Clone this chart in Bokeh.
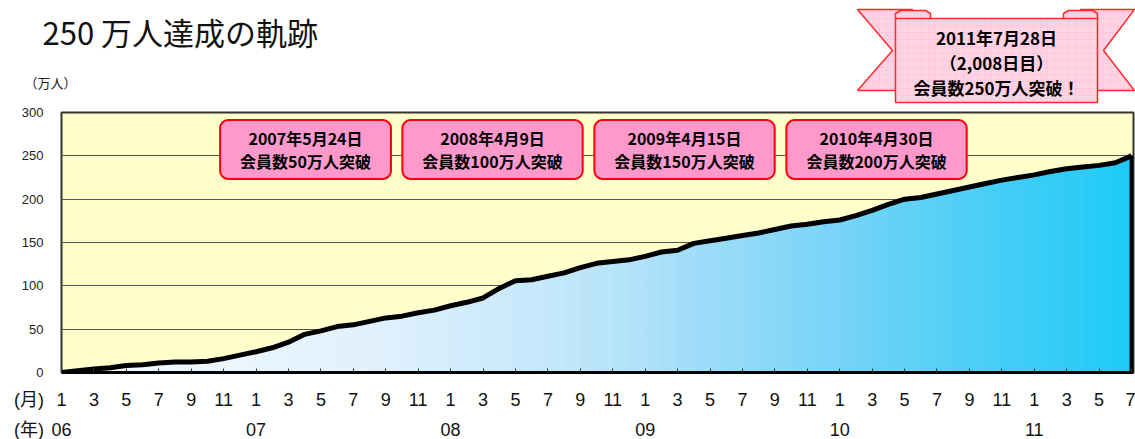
import numpy as np
from bokeh.plotting import figure
from bokeh.layouts import column
from bokeh.models import Label, FixedTicker, LinearAxis, Range1d
from bokeh.core.properties import value
from bokeh.embed import file_html
from bokeh.resources import INLINE

# ---------------- data ----------------
months = list(range(67))  # 0 = Jan 2006 ... 66 = Jul 2011
members = [0, 2, 4, 5.5, 8, 9, 11, 12, 12, 13, 16, 20,
           24, 28.5, 35, 44, 48, 53, 55, 59, 63, 65, 69, 72,
           77, 81, 86, 97, 106, 107, 111, 115, 121, 126, 128, 130,
           134, 139, 141, 149, 152, 155, 158, 161, 165, 169, 171, 174,
           176, 181, 187, 194, 200, 202, 206, 210, 214, 218, 222, 225,
           228, 232, 235, 237, 239, 242, 250]
y_ticks = [0, 50, 100, 150, 200, 250, 300]
month_ticks = list(range(0, 67, 2))
month_labels = [str(m % 12 + 1) for m in month_ticks]
year_ticks = [0, 12, 24, 36, 48, 60]
year_labels = ["06", "07", "08", "09", "10", "11"]
unit_pos = -2.0           # where the (月)/(年) captions sit, left of the frame
month_caption = "(月)"
year_caption = "(年)"
milestones = ["2007年5月24日\n会員数50万人突破",
              "2008年4月9日\n会員数100万人突破",
              "2009年4月15日\n会員数150万人突破",
              "2010年4月30日\n会員数200万人突破"]
banner_lines = ["2011年7月28日", "（2,008日目）", "会員数250万人突破！"]
title_text = "250 万人達成の軌跡"
unit_text = "（万人）"

W = 1135
X_END = 66.12
CJK = "Noto Sans CJK JP"
TOP_H = 104

# ================= top strip: title, unit, banner =================
top = figure(width=W, height=TOP_H, output_backend="svg", toolbar_location=None,
             x_range=Range1d(0, W), y_range=Range1d(TOP_H, 0),
             x_axis_type=None, y_axis_type=None, frame_align=False,
             min_border_left=0, min_border_right=0, min_border_top=0, min_border_bottom=0)
top.outline_line_color = None
top.grid.visible = False
top.background_fill_color = "white"
top.border_fill_color = "white"

top.text(x=[42], y=[31], text=[title_text], text_font=value(CJK),
         text_font_size=value("31px"), text_baseline="middle", text_align="left",
         text_color="#111111")
top.text(x=[24], y=[82], text=[unit_text], text_font=value(CJK),
         text_font_size=value("13px"), text_baseline="middle", text_align="left",
         text_color="#222222")

pink = "#ffd3e4"
red = "#ff2a2a"
tails = [
    [(857, 9), (912, 9), (912, 90), (857, 90), (892, 50)],
    [(1134, 9), (1080, 9), (1080, 90), (1134, 90), (1103, 50)],
]
rolls = [
    [(895, 19), (895, 13), (900, 10), (925, 10), (930, 13), (930, 19)],
    [(1063, 19), (1063, 13), (1068, 10), (1092, 10), (1097, 13), (1097, 19)],
]
body = [[(895, 18), (1097, 18), (1097, 102), (895, 102)]]
for group in (tails, rolls, body):
    top.patches([[a for a, b in s] for s in group], [[b for a, b in s] for s in group],
                fill_color=pink, line_color=red, line_width=1.5,
                hatch_pattern="+", hatch_color="#ffadc8", hatch_alpha=0.5,
                hatch_scale=7, hatch_weight=0.6)
top.text(x=[996, 996, 996], y=[37, 62, 87], text=banner_lines, text_font=value(CJK),
         text_font_style="bold", text_font_size=value("17px"), text_align="center",
         text_baseline="middle", text_color="black")

# ================= main chart =================
p = figure(width=W, height=276, output_backend="svg", toolbar_location=None,
           x_range=Range1d(0, X_END), y_range=Range1d(0, 300), frame_align=False,
           min_border_left=61, min_border_right=2, min_border_top=8,
           min_border_bottom=8)
p.background_fill_color = "#ffffcc"
p.border_fill_color = "white"
p.outline_line_color = "#333333"
p.outline_line_width = 2

stops_t = [0, 0.3, 0.5, 0.7, 0.85, 1.0]
stops_c = np.array([(247, 251, 255), (224, 240, 253), (188, 229, 250),
                    (128, 213, 247), (78, 206, 247), (28, 203, 245)], float)
xs, ys, cols = [], [], []
n = len(months) - 1
for i in range(n):
    t = (i + 0.5) / n
    c = [int(round(np.interp(t, stops_t, stops_c[:, k]))) for k in range(3)]
    cols.append("#%02x%02x%02x" % tuple(c))
    xs.append([months[i], months[i], months[i + 1], months[i + 1]])
    ys.append([0, members[i], members[i + 1], 0])
p.patches(xs, ys, fill_color=cols, line_color=cols, line_width=1)

p.line(months, members, line_width=5, color="black", line_join="round")
p.segment(x0=[months[-1]], y0=[0], x1=[months[-1]], y1=[members[-1]],
          line_width=4, color="black")

p.xgrid.visible = False
p.ygrid.ticker = FixedTicker(ticks=y_ticks)
p.ygrid.grid_line_color = "#555555"
p.ygrid.grid_line_width = 1.2

p.yaxis.ticker = FixedTicker(ticks=y_ticks)
p.yaxis.axis_line_color = None
p.yaxis.major_tick_line_color = None
p.yaxis.minor_tick_line_color = None
p.yaxis.major_label_standoff = 12
p.yaxis.major_label_text_font = "Liberation Sans"
p.yaxis.major_label_text_font_size = "13px"
p.yaxis.major_label_text_color = "#222222"

# bottom axis of the chart: thick line + inward ticks (labels live in the strip below)
p.xaxis.ticker = FixedTicker(ticks=[], minor_ticks=month_ticks)
p.xaxis.axis_line_width = 3
p.xaxis.axis_line_color = "black"
p.xaxis.major_tick_line_color = None
p.xaxis.minor_tick_in = 4
p.xaxis.minor_tick_out = 0
p.xaxis.minor_tick_line_color = "#333333"
p.xaxis.minor_tick_line_width = 1

for txt, cx in zip(milestones, [305, 492, 684, 876]):
    p.add_layout(Label(x=(cx - 61) * 66 / 1070.0, y=(372 - 149) * 300 / 260.0, text=txt,
                       text_font=CJK, text_font_style="bold", text_font_size="16px",
                       text_align="center", text_baseline="middle",
                       text_line_height=0.95, text_color="black",
                       background_fill_color="#ff99cc", border_line_color="#ff0000",
                       border_line_width=2, border_radius=8,
                       padding=dict(left=20, right=20, top=6, bottom=6)))

# ================= bottom strip: month / year axes =================
xf = "'Liberation Sans Narrow', 'Liberation Sans', 'Noto Sans CJK JP'"
bot = figure(width=W, height=59, output_backend="svg", toolbar_location=None,
             x_range=Range1d(-61 * 66 / 1070.0, X_END), y_range=Range1d(0, 1),
             y_axis_type=None, frame_align=False,
             min_border_left=0, min_border_right=2, min_border_top=0,
             min_border_bottom=54)
bot.outline_line_color = None
bot.grid.visible = False
bot.background_fill_color = "white"
bot.border_fill_color = "white"

mt = [unit_pos] + month_ticks
ml = [month_caption] + month_labels
bot.xaxis.ticker = FixedTicker(ticks=mt)
bot.xaxis.major_label_overrides = {k: v for k, v in zip(mt, ml)}
bot.xaxis.axis_line_color = None
bot.xaxis.major_tick_line_color = None
bot.xaxis.minor_tick_line_color = None
bot.xaxis.major_label_standoff = 3
bot.xaxis.major_label_text_font = xf
bot.xaxis.major_label_text_font_size = "18px"
bot.xaxis.major_label_text_color = "#111111"

yt = [unit_pos] + year_ticks
yl = [year_caption] + year_labels
yax = LinearAxis(ticker=FixedTicker(ticks=yt),
                 major_label_overrides={k: v for k, v in zip(yt, yl)},
                 axis_line_color=None, major_tick_line_color=None,
                 minor_tick_line_color=None, major_label_standoff=1,
                 major_label_text_font=xf, major_label_text_font_size="18px",
                 major_label_text_color="#111111")
bot.add_layout(yax, "below")

layout = column(top, p, bot, spacing=0)
open("out.html", "w").write(file_html(layout, INLINE))
